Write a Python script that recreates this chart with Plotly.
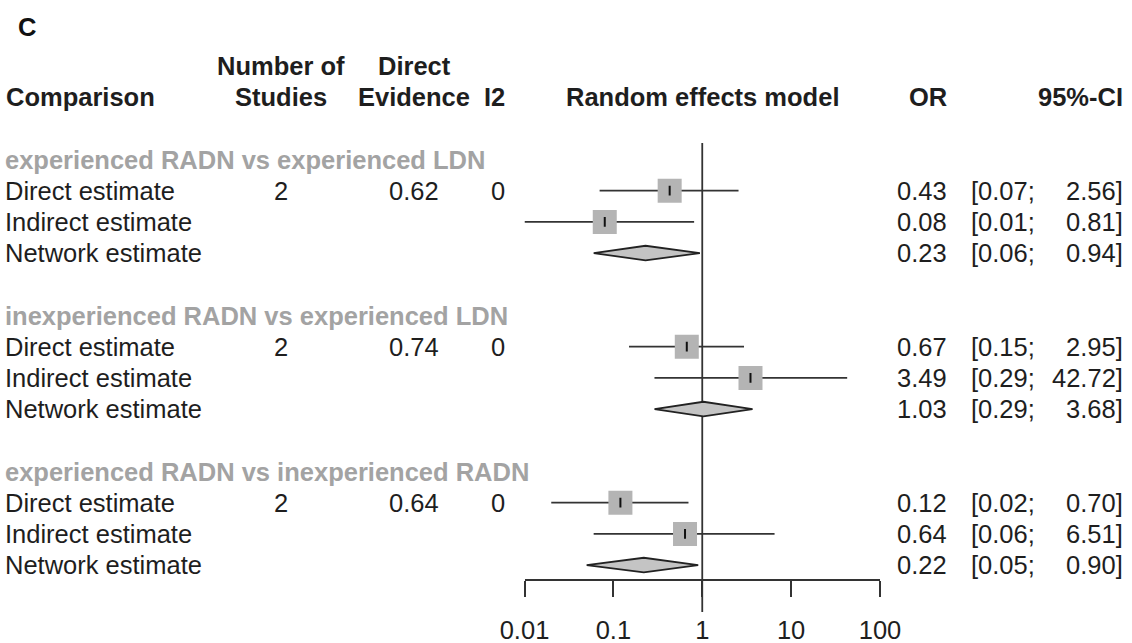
import plotly.graph_objects as go

# ---- data -------------------------------------------------------------
comparisons = [
    "experienced RADN vs experienced LDN",
    "inexperienced RADN vs experienced LDN",
    "experienced RADN vs inexperienced RADN",
]
estimate_labels = ["Direct estimate", "Indirect estimate", "Network estimate"]

n_studies = [2, 2, 2]
direct_evidence = [0.62, 0.74, 0.64]
i2_values = [0, 0, 0]

or_direct = [0.43, 0.67, 0.12]
lo_direct = [0.07, 0.15, 0.02]
hi_direct = [2.56, 2.95, 0.70]

or_indirect = [0.08, 3.49, 0.64]
lo_indirect = [0.01, 0.29, 0.06]
hi_indirect = [0.81, 42.72, 6.51]

or_network = [0.23, 1.03, 0.22]
lo_network = [0.06, 0.29, 0.05]
hi_network = [0.94, 3.68, 0.90]

axis_ticks = [0.01, 0.1, 1, 10, 100]
axis_ticktext = ["0.01", "0.1", "1", "10", "100"]
null_value = 1

# ---- layout constants ---------------------------------------------------
W, H = 1132, 643
ROW_PX = 31.2          # pixel height of one table row
ROW0_PX = 159.5        # pixel position of the first group header row
FS = 25.5
FONT = "Liberation Sans, Arial, sans-serif"
TXT = "#1e1e1e"
GREY_HDR = "#a3a3a3"
LINE = "#333333"


def px(x):
    return x / W


def row_from_px(y):
    return (y - ROW0_PX) / ROW_PX


fig = go.Figure()
ann = []


def text(x, y, s, anchor="left", bold=False, color=TXT, xref="paper"):
    ann.append(dict(
        x=x, y=y, xref=xref, yref="y", text=f"<b>{s}</b>" if bold else s,
        showarrow=False, xanchor=anchor, yanchor="middle",
        font=dict(family=FONT, size=FS, color=color),
    ))


# column headers
hdr1, hdr2 = -3, -2
text(px(4), hdr2, "Comparison", bold=True)
text(px(281), hdr1, "Number of", "center", bold=True)
text(px(281), hdr2, "Studies", "center", bold=True)
text(px(414), hdr1, "Direct", "center", bold=True)
text(px(414), hdr2, "Evidence", "center", bold=True)
text(px(507), hdr2, "I2", "right", bold=True)
text(0, hdr2, "Random effects model", "center", bold=True, xref="x")
text(px(949), hdr2, "OR", "right", bold=True)
text(px(1125), hdr2, "95%-CI", "right", bold=True)

# vertical reference line at OR = 1
fig.add_trace(go.Scatter(
    x=[null_value, null_value], y=[row_from_px(143), row_from_px(612)],
    mode="lines", line=dict(color=LINE, width=1.8), hoverinfo="skip",
    cliponaxis=False,
))

DIAMOND_HALF = 0.235

for g, comp in enumerate(comparisons):
    base = g * 5
    text(px(3), base, comp, bold=True, color=GREY_HDR)

    ests = [
        (or_direct[g], lo_direct[g], hi_direct[g]),
        (or_indirect[g], lo_indirect[g], hi_indirect[g]),
        (or_network[g], lo_network[g], hi_network[g]),
    ]
    for k, (est, lo, hi) in enumerate(ests):
        r = base + 1 + k
        text(px(3), r, estimate_labels[k])
        text(px(949), r, f"{est:.2f}", "right")
        text(px(1037), r, f"[{lo:.2f};", "right")
        text(px(1125), r, f"{hi:.2f}]", "right")

        if k < 2:
            # confidence interval line
            fig.add_trace(go.Scatter(
                x=[lo, hi], y=[r, r], mode="lines",
                line=dict(color=LINE, width=1.8), hoverinfo="skip",
            ))
            # weight square
            fig.add_trace(go.Scatter(
                x=[est], y=[r], mode="markers",
                marker=dict(symbol="square", size=24, color="#b4b4b4",
                            line=dict(width=0)),
                hoverinfo="skip",
            ))
            # point estimate tick
            fig.add_trace(go.Scatter(
                x=[est], y=[r], mode="markers",
                marker=dict(symbol="line-ns", size=7,
                            line=dict(color="#111111", width=2)),
                hoverinfo="skip",
            ))
        else:
            fig.add_trace(go.Scatter(
                x=[lo, est, hi, est, lo],
                y=[r, r - DIAMOND_HALF, r, r + DIAMOND_HALF, r],
                mode="lines", fill="toself", fillcolor="#c4c4c4",
                line=dict(color="#222222", width=1.8), hoverinfo="skip",
            ))

    # study-level columns (direct comparison only)
    r = base + 1
    text(px(281), r, f"{n_studies[g]}", "center")
    text(px(414), r, f"{direct_evidence[g]:.2f}", "center")
    text(px(507), r, f"{i2_values[g]}", "right")

# panel letter
ann.append(dict(x=px(16), y=1 - 27 / H, xref="paper", yref="paper", text="<b>C</b>",
                showarrow=False, xanchor="left", yanchor="middle",
                font=dict(family=FONT, size=FS, color="#111111")))

fig.update_layout(
    width=W, height=H,
    margin=dict(l=0, r=0, t=0, b=0, pad=0, autoexpand=False),
    paper_bgcolor="white", plot_bgcolor="white",
    showlegend=False,
    annotations=ann,
    xaxis=dict(
        type="log", range=[-2, 2],
        domain=[524.5 / W, 880 / W],
        anchor="free", position=1 - 580 / H,
        showline=True, linecolor=LINE, linewidth=1.8,
        ticks="outside", ticklen=16, tickwidth=1.8, tickcolor=LINE,
        tickvals=axis_ticks, ticktext=axis_ticktext,
        tickfont=dict(family=FONT, size=FS, color=TXT),
        ticklabelstandoff=11, automargin=False,
        showgrid=False, zeroline=False, fixedrange=True,
    ),
    yaxis=dict(
        range=[row_from_px(H), row_from_px(0)],
        domain=[0, 1], visible=False, showgrid=False, zeroline=False,
        fixedrange=True, automargin=False,
    ),
)

fig.write_html("out.html")
